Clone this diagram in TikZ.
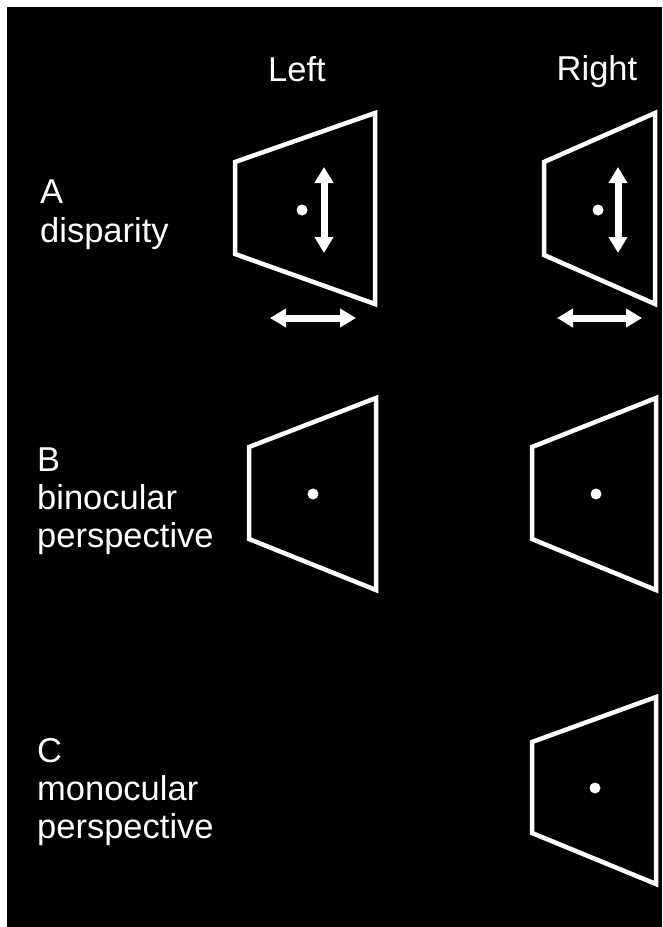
\documentclass[tikz,border=0pt]{standalone}
\usepackage{fontspec}
\setmainfont{Liberation Sans}
\usetikzlibrary{arrows.meta}
\begin{document}
\begin{tikzpicture}[x=1pt,y=-1pt,
  lbl/.style={text=white,inner sep=0pt,anchor=base west,font=\fontsize{34.5}{39}\selectfont},
  hdr/.style={text=white,inner sep=0pt,anchor=base,font=\fontsize{34.5}{39}\selectfont},
  frame/.style={draw=white,line width=4.5pt,line join=miter},
  dotmark/.style={fill=white},
  dblarrow/.style={white,line width=7pt,{Triangle[width=18pt,length=16pt]}-{Triangle[width=18pt,length=16pt]}}]
\useasboundingbox[fill=white] (0,0) rectangle (662,927);
\fill[black] (7,7) rectangle (662,927);
% headers
\node[hdr] (hL) at (297,81) {Left};
\node[hdr] (hR) at (597,80) {Right};
% row labels
\node[lbl] (lA1) at (40,203) {A};
\node[lbl] (lA2) at (40,242) {disparity};
\node[lbl] (lB1) at (37,471) {B};
\node[lbl] (lB2) at (37,509) {binocular};
\node[lbl] (lB3) at (37,547) {perspective};
\node[lbl] (lC1) at (37,762) {C};
\node[lbl] (lC2) at (37,800) {monocular};
\node[lbl] (lC3) at (37,838) {perspective};
% A left
\draw[frame] (235,162) -- (375,113) -- (375,304) -- (235,254) -- cycle;
\fill[dotmark] (302,210) circle (5.5);
\coordinate (aLvt) at (324,167); \coordinate (aLvb) at (324,253);
\draw[dblarrow] (aLvt) -- (aLvb);
\coordinate (aLhl) at (270,318); \coordinate (aLhr) at (356,318);
\draw[dblarrow] (aLhl) -- (aLhr);
% A right
\draw[frame] (544,162) -- (655,113) -- (655,304) -- (544,255) -- cycle;
\fill[dotmark] (598,210) circle (5.5);
\coordinate (aRvt) at (618,167); \coordinate (aRvb) at (618,253);
\draw[dblarrow] (aRvt) -- (aRvb);
\coordinate (aRhl) at (557,318); \coordinate (aRhr) at (642,318);
\draw[dblarrow] (aRhl) -- (aRhr);
% B left
\draw[frame] (249,447) -- (376,398) -- (376,590) -- (249,539) -- cycle;
\fill[dotmark] (313,494) circle (5.5);
% B right
\draw[frame] (532,447) -- (656,398) -- (656,590) -- (532,539) -- cycle;
\fill[dotmark] (596,494) circle (5.5);
% C right
\draw[frame] (532,742) -- (656,697) -- (656,884) -- (532,833) -- cycle;
\fill[dotmark] (595,788) circle (5.5);
\end{tikzpicture}
\end{document}
